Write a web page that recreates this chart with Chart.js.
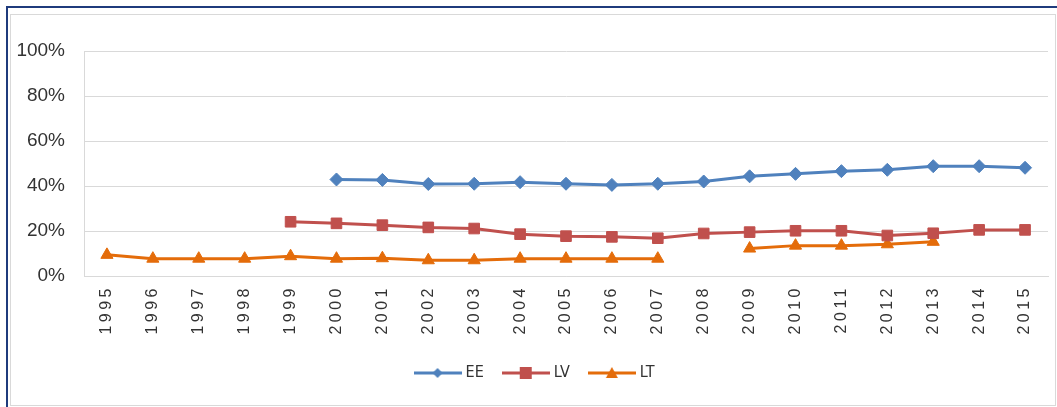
<!DOCTYPE html>
<html>
<head>
<meta charset="utf-8">
<script src="https://cdn.jsdelivr.net/npm/chart.js@4/dist/chart.umd.min.js"></script>
<style>
  html, body { margin: 0; padding: 0; background: #fff; }
  #wrap { position: relative; width: 1057px; height: 407px; overflow: hidden; }
  .navyTop { position: absolute; left: 6px; top: 6px; width: 1051px; height: 2px; background: #1f3b7c; }
  .navyLeft { position: absolute; left: 6px; top: 6px; width: 2px; height: 401px; background: #1f3b7c; }
  .inner { position: absolute; left: 10px; top: 14px; width: 1044px; height: 390px; border: 1px solid #d9d9d9; }
  #grafico { position: absolute; left: 0; top: 0; }
</style>
</head>
<body>
<div id="wrap">
  <div class="inner"></div>
  <div class="navyTop"></div>
  <div class="navyLeft"></div>
  <canvas id="grafico" width="1057" height="407"></canvas>
</div>
<script>
const anios = ['1995', '1996', '1997', '1998', '1999', '2000', '2001', '2002', '2003', '2004', '2005',
    '2006', '2007', '2008', '2009', '2010', '2011', '2012', '2013', '2014', '2015'];
const ee = [null, null, null, null, null, 42.9, 42.7, 40.9, 41.0, 41.7, 41.0, 40.5, 41.0, 42.0, 44.3, 45.4, 46.6, 47.2, 48.8, 48.8, 48.1];
const lv = [null, null, null, null, 24.1, 23.4, 22.6, 21.6, 21.1, 18.6, 17.7, 17.4, 16.8, 18.9, 19.5, 20.1, 20.1, 18.0, 19.0, 20.5, 20.5];
const lt = [9.4, 7.7, 7.7, 7.7, 8.8, 7.7, 7.9, 7.0, 7.0, 7.7, 7.7, 7.7, 7.7, null, 12.2, 13.5, 13.5, 14.1, 15.2, null, null];
const ticksY = [0, 20, 40, 60, 80, 100];

const colores = ['#4f81bd', '#c0504d', '#e46c0a'];
const FUENTE = '"Liberation Sans", Arial, sans-serif';

// simbolo de la leyenda: linea con el marcador al centro
function simbolo(color, estilo) {
    let c = document.createElement('canvas');
    c.width = 48; c.height = 16;
    let ctx = c.getContext('2d');
    ctx.strokeStyle = color;
    ctx.fillStyle = color;
    ctx.lineWidth = 3;
    ctx.beginPath();
    ctx.moveTo(0, 8); ctx.lineTo(48, 8);
    ctx.stroke();
    ctx.beginPath();
    if (estilo === 'rectRot') {
        ctx.moveTo(24, 3); ctx.lineTo(29, 8); ctx.lineTo(24, 13); ctx.lineTo(19, 8);
    } else if (estilo === 'rect') {
        ctx.rect(18, 2, 12, 12);
    } else {
        ctx.moveTo(24, 2); ctx.lineTo(30, 13); ctx.lineTo(18, 13);
    }
    ctx.closePath();
    ctx.fill();
    return c;
}

const espaciado = {
    id: 'espaciado',
    afterLayout(chart) {
        // la leyenda va centrada sobre la zona del grafico, no sobre todo el lienzo
        chart.legend.left = 24;
    },
    beforeDraw(chart) {
        let s = chart.scales.x;
        if (s._espaciado) return;
        let orig = s.drawLabels;
        s.drawLabels = function (area) {
            this.ctx.save();
            this.ctx.letterSpacing = '3.5px';
            orig.call(this, area);
            this.ctx.restore();
        };
        s._espaciado = true;
    }
};

function crearGrafico(contenedor) {
    let canvasGrafico = document.getElementById(contenedor);
    const estilos = ['rectRot', 'rect', 'triangle'];
    const radios = [6.5, 7.5, 7];
    const etiquetas = ['EE', 'LV', 'LT'];
    const valores = [ee, lv, lt];

    new Chart(canvasGrafico, {
        type: 'line',
        data: {
            labels: anios,
            datasets: valores.map((v, i) => ({
                label: etiquetas[i],
                data: v,
                borderColor: colores[i],
                backgroundColor: colores[i],
                borderWidth: 3,
                pointStyle: estilos[i],
                pointRadius: radios[i],
                pointBorderWidth: 1,
                pointBorderColor: colores[i],
                pointBackgroundColor: colores[i],
                spanGaps: false,
                tension: 0
            }))
        },
        options: {
            responsive: false,
            animation: false,
            devicePixelRatio: 1,
            layout: { padding: { left: 0, top: 51, right: 9, bottom: 16 } },
            plugins: {
                tooltip: { enabled: false },
                legend: {
                    position: 'bottom',
                    labels: {
                        usePointStyle: true,
                        pointStyleWidth: 40,
                        padding: 22,
                        color: '#333333',
                        font: { family: '"Liberation Sans Narrow", "DejaVu Sans Condensed", ' + FUENTE, size: 16 },
                        generateLabels(chart) {
                            let items = Chart.defaults.plugins.legend.labels.generateLabels(chart);
                            items.forEach((it, i) => { it.pointStyle = simbolo(colores[i], estilos[i]); });
                            return items;
                        }
                    }
                }
            },
            scales: {
                x: {
                    offset: true,
                    grid: { display: false, offset: true },
                    border: { display: true, color: '#d9d9d9' },
                    ticks: {
                        autoSkip: false,
                        minRotation: 90,
                        maxRotation: 90,
                        padding: 1,
                        color: '#333333',
                        font: { family: FUENTE, size: 16 }
                    },
                    afterFit(scale) { scale.height = 67; }
                },
                y: {
                    min: 0,
                    max: 100,
                    afterBuildTicks(scale) { scale.ticks = ticksY.map(v => ({ value: v })); },
                    grid: { color: '#d9d9d9', drawTicks: false },
                    border: { display: true, color: '#d9d9d9' },
                    ticks: {
                        padding: 19,
                        color: '#333333',
                        font: { family: FUENTE, size: 19 },
                        callback: (v) => v + '%'
                    },
                    afterFit(scale) { scale.width = 84; }
                }
            }
        },
        plugins: [espaciado]
    });
}

window.addEventListener('load', () => {
    crearGrafico('grafico');
});
</script>
</body>
</html>
